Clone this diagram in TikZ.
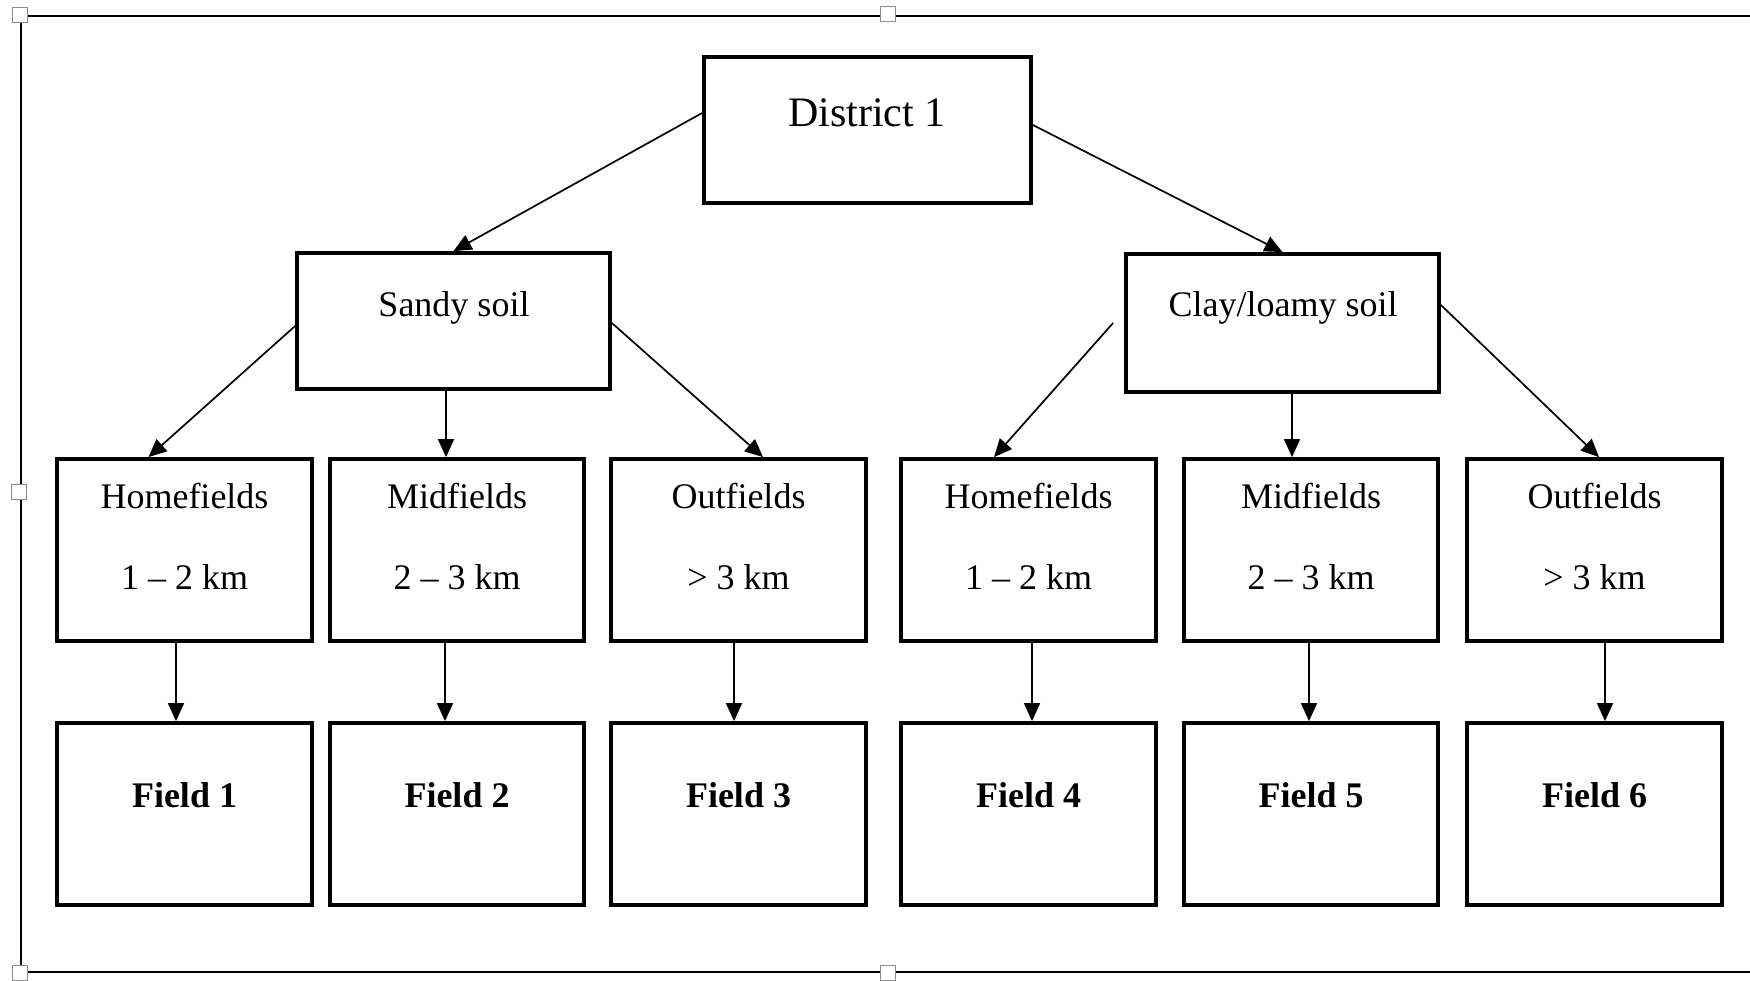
\documentclass[tikz,border=0pt]{standalone}
\usepackage{fontspec}
\setmainfont{Liberation Serif}
\usetikzlibrary{arrows.meta}
\begin{document}
\begin{tikzpicture}[x=0.5pt,y=-0.5pt,
  wbox/.style 2 args={draw=black, line width=1.9pt, inner sep=0pt, minimum width=#1*0.5pt, minimum height=#2*0.5pt},
  arr/.style={-{Triangle[length=9pt,width=8pt]}, line width=0.85pt},
  txt/.style={anchor=base, inner sep=0pt, font=\fontsize{18}{22}\selectfont},
  bigtxt/.style={anchor=base, inner sep=0pt, font=\fontsize{21}{25}\selectfont},
  boldtxt/.style={anchor=base, inner sep=0pt, font=\fontsize{18}{22}\selectfont\bfseries},
  handle/.style={draw=black!45, fill=white, line width=0.5pt, minimum size=7.5pt, inner sep=0pt},
  frame/.style={line width=1.4pt}]
\useasboundingbox (0,0) rectangle (1750,980);
\clip (0,0) rectangle (1750,980);
\fill[white] (0,0) rectangle (1750,980);

% outer frame
\coordinate (ftl) at (21,16);
\coordinate (fbl) at (21,972);
\coordinate (ftr) at (1770,16);
\coordinate (fbr) at (1770,972);
\draw[frame] (ftr) -- (ftl) -- (fbl) -- (fbr);

% boxes
\node[wbox={327}{146}] (d1) at (867.5,130) {};
\node[wbox={313}{136}] (sandy) at (453.5,321) {};
\node[wbox={313}{138}] (clay) at (1282.5,323) {};

\node[wbox={255}{182}] (home1) at (184.5,550) {};
\node[wbox={254}{182}] (mid1) at (457,550) {};
\node[wbox={255}{182}] (out1) at (738.5,550) {};
\node[wbox={255}{182}] (home2) at (1028.5,550) {};
\node[wbox={254}{182}] (mid2) at (1311,550) {};
\node[wbox={255}{182}] (out2) at (1594.5,550) {};

\node[wbox={255}{182}] (f1) at (184.5,814) {};
\node[wbox={254}{182}] (f2) at (457,814) {};
\node[wbox={255}{182}] (f3) at (738.5,814) {};
\node[wbox={255}{182}] (f4) at (1028.5,814) {};
\node[wbox={254}{182}] (f5) at (1311,814) {};
\node[wbox={255}{182}] (f6) at (1594.5,814) {};

% texts
\node[bigtxt] (td1) at (867,126) {District 1};
\node[txt] (tsandy) at (454,316) {Sandy soil};
\node[txt] (tclay) at (1283,316) {Clay/loamy soil};

\node[txt] (th1) at (184.5,508) {Homefields};
\node[txt] (th1b) at (184.5,589) {1 – 2 km};
\node[txt] (tm1) at (457,508) {Midfields};
\node[txt] (tm1b) at (457,589) {2 – 3 km};
\node[txt] (to1) at (738.5,508) {Outfields};
\node[txt] (to1b) at (738.5,589) {> 3 km};
\node[txt] (th2) at (1028.5,508) {Homefields};
\node[txt] (th2b) at (1028.5,589) {1 – 2 km};
\node[txt] (tm2) at (1311,508) {Midfields};
\node[txt] (tm2b) at (1311,589) {2 – 3 km};
\node[txt] (to2) at (1594.5,508) {Outfields};
\node[txt] (to2b) at (1594.5,589) {> 3 km};

\node[boldtxt] (tf1) at (184.5,807) {Field 1};
\node[boldtxt] (tf2) at (457,807) {Field 2};
\node[boldtxt] (tf3) at (738.5,807) {Field 3};
\node[boldtxt] (tf4) at (1028.5,807) {Field 4};
\node[boldtxt] (tf5) at (1311,807) {Field 5};
\node[boldtxt] (tf6) at (1594.5,807) {Field 6};

% connectors
\draw[arr] ([yshift=8.5pt]d1.west) -- (sandy.north);
\draw[arr] ([yshift=2.5pt]d1.east) -- (clay.north);

\draw[arr] ([yshift=-2.5pt]sandy.west) -- ([xshift=-18pt]home1.north);
\draw[arr] ([xshift=-3.75pt]sandy.south) -- ([xshift=-5.5pt]mid1.north);
\draw[arr] ([yshift=-1pt]sandy.east) -- ([xshift=12.25pt]out1.north);

\coordinate (cstart) at ([xshift=-5.5pt]clay.west);
\draw[arr] (cstart) -- ([xshift=-17.25pt]home2.north);
\draw[arr] ([xshift=4.75pt]clay.south) -- ([xshift=-9.5pt]mid2.north);
\draw[arr] ([yshift=9pt]clay.east) -- ([xshift=2.25pt]out2.north);

\draw[arr] ([xshift=-4.25pt]home1.south) -- ([xshift=-4.25pt]f1.north);
\draw[arr] ([xshift=-6pt]mid1.south) -- ([xshift=-6pt]f2.north);
\draw[arr] ([xshift=-2.25pt]out1.south) -- ([xshift=-2.25pt]f3.north);
\draw[arr] ([xshift=1.75pt]home2.south) -- ([xshift=1.75pt]f4.north);
\draw[arr] ([xshift=-1pt]mid2.south) -- ([xshift=-1pt]f5.north);
\draw[arr] ([xshift=5.25pt]out2.south) -- ([xshift=5.25pt]f6.north);

% selection handles
\node[handle] (h1) at (20,15) {};
\node[handle] (h2) at (888,14) {};
\node[handle] (h3) at (19,492) {};
\node[handle] (h4) at (20,973) {};
\node[handle] (h5) at (888,973) {};
\end{tikzpicture}
\end{document}
